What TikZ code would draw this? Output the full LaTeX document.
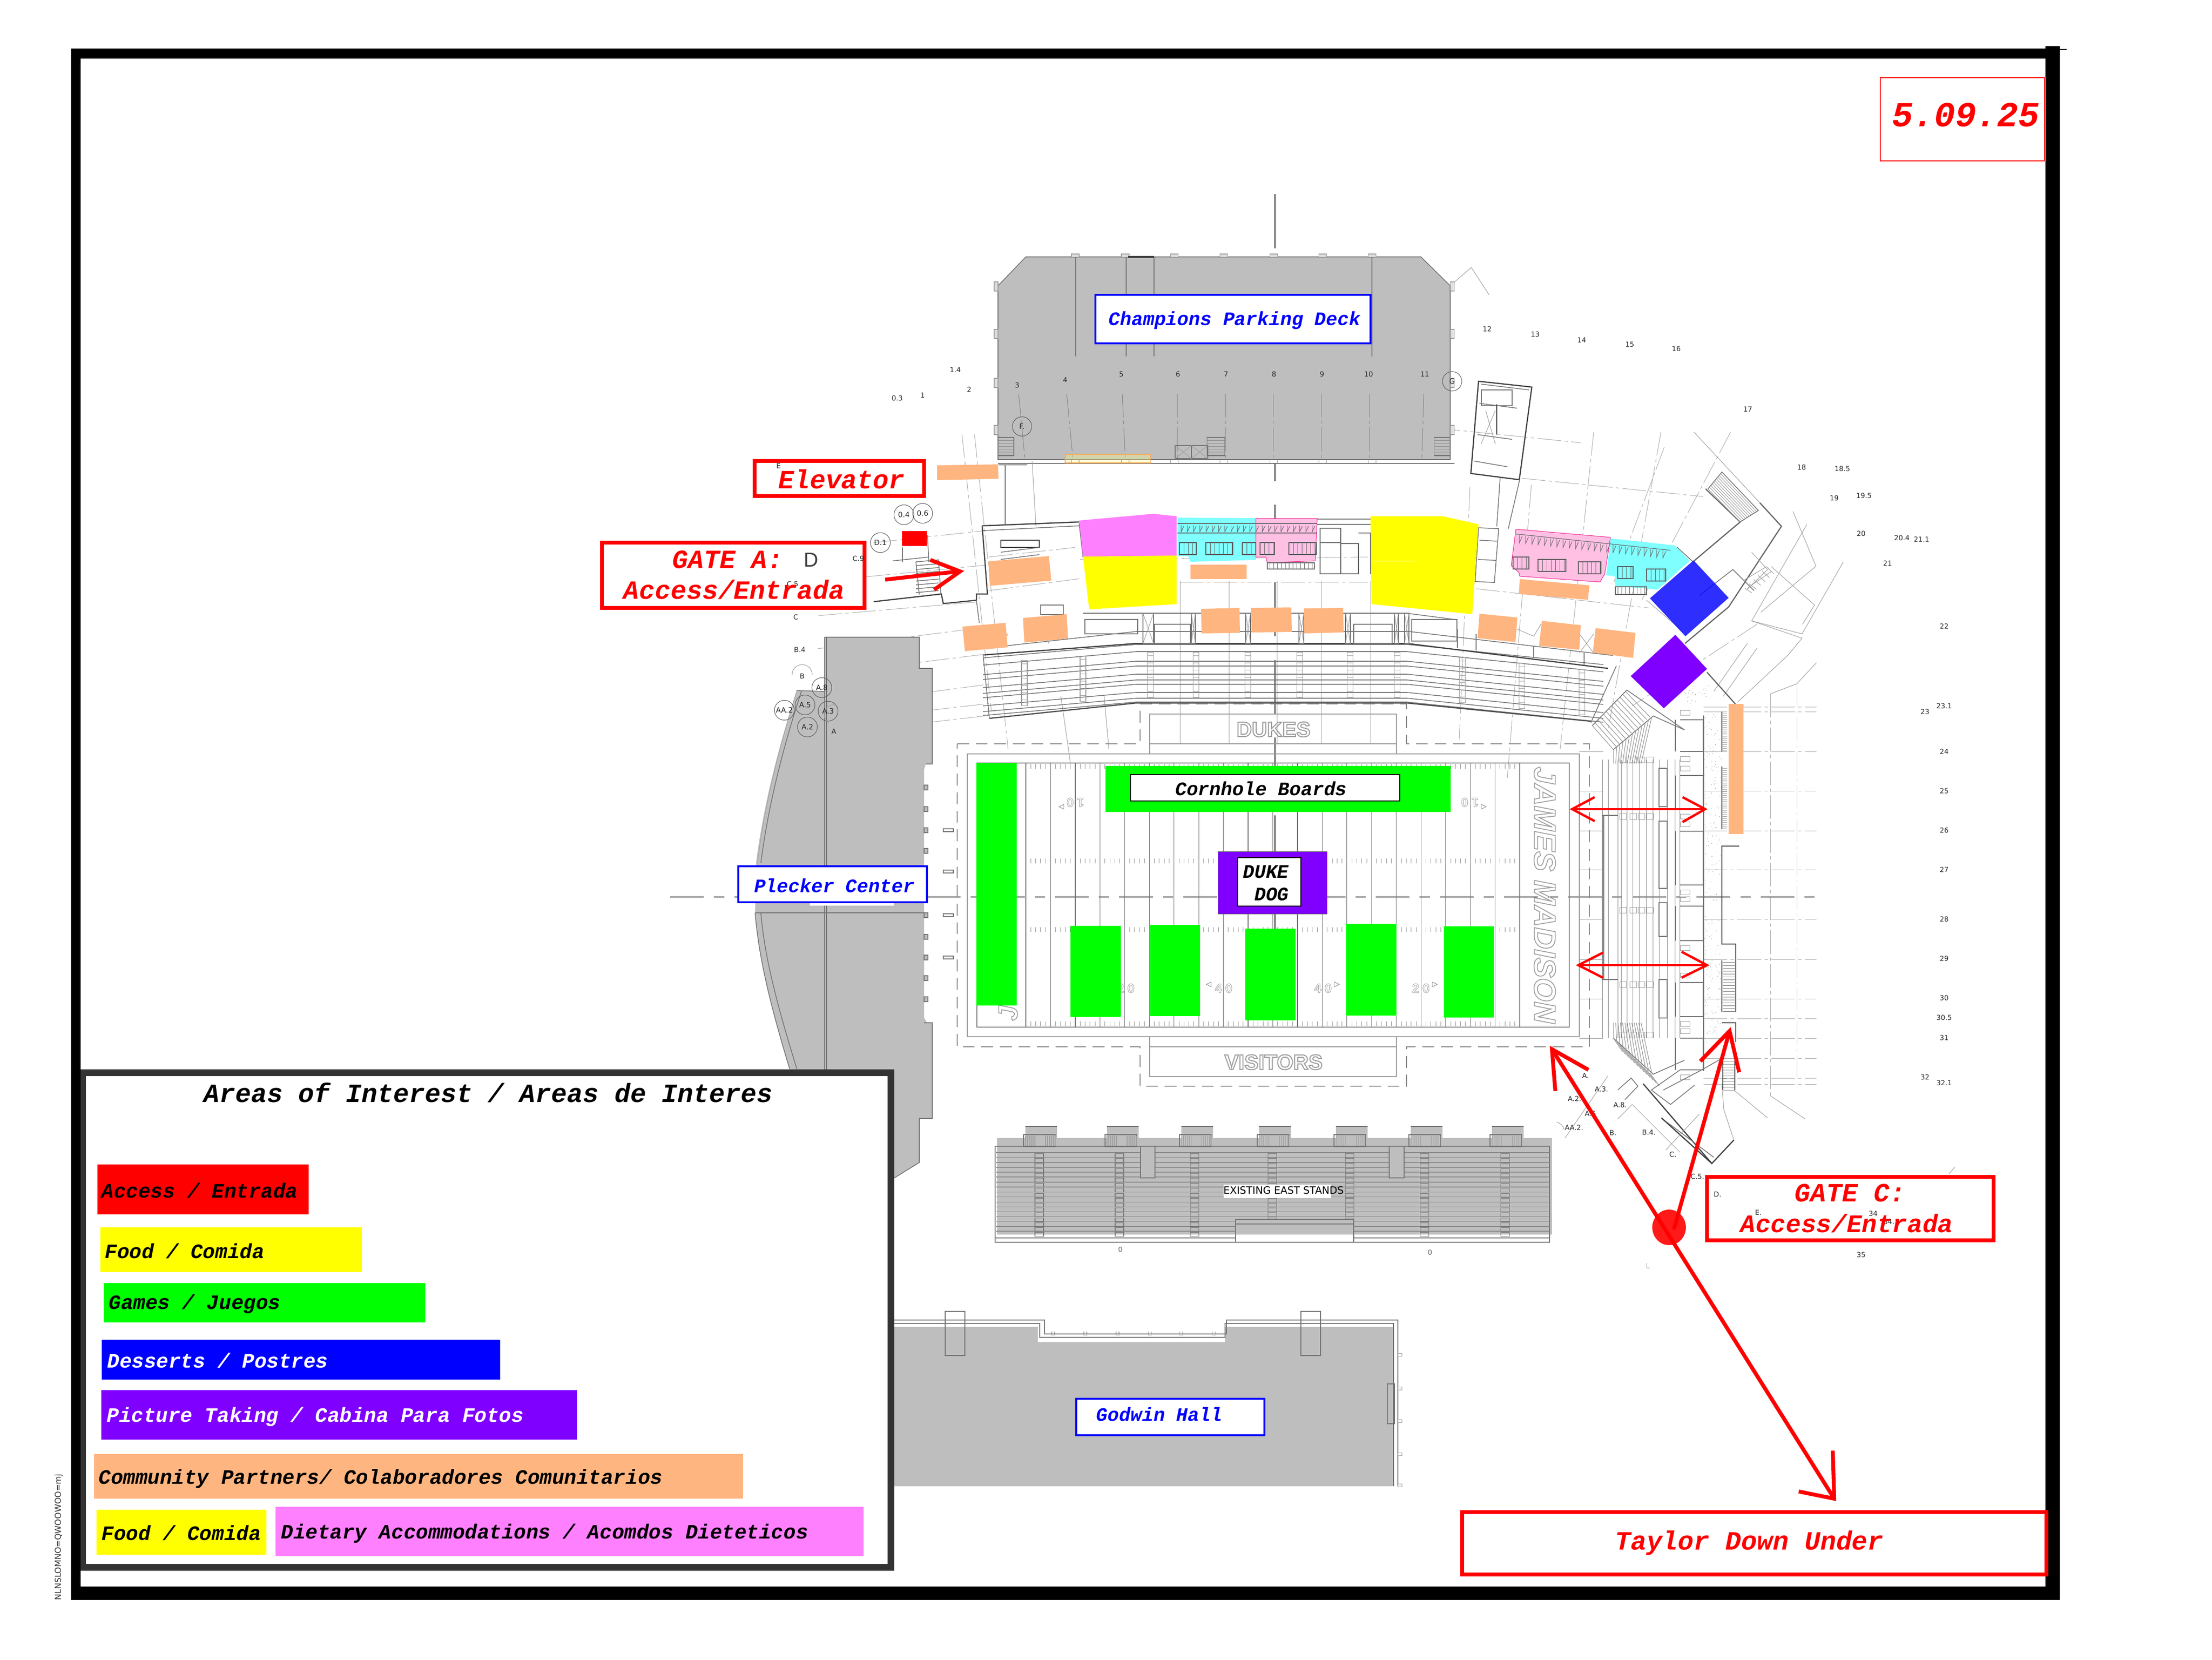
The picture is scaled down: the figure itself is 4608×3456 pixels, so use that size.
\documentclass[tikz,border=0pt]{standalone}
\usepackage{fontspec}
\usetikzlibrary{calc}
\setmainfont{Liberation Mono}
\newfontfamily\cadfont{DejaVu Sans}
\newfontfamily\fieldfont{Liberation Sans}
\definecolor{orng}{HTML}{FFB580}
\definecolor{lime}{HTML}{00FF00}
\definecolor{yelx}{HTML}{FFFF00}
\definecolor{violetx}{HTML}{8000FF}
\definecolor{magen}{HTML}{FF80FF}
\definecolor{cyanx}{HTML}{80FFFF}
\definecolor{pinkx}{HTML}{FFC0E4}
\definecolor{deepp}{HTML}{F0208C}
\definecolor{bldg}{HTML}{BEBEBE}
\definecolor{legf}{HTML}{333333}
\newcommand{\outl}[2][0.6]{\special{pdf:code q 1 Tr #1 w 0.62 G}#2\special{pdf:code Q 0 Tr}}
\tikzset{
  cad/.style={draw=black!55,line width=.45pt},
  cadk/.style={draw=black!75,line width=.7pt},
  cadt/.style={draw=black!38,line width=.3pt},
  griddash/.style={draw=black!32,line width=.3pt,dash pattern=on 14pt off 2pt on 2pt off 2pt},
  rarrow/.style={draw=red,line width=2.3pt,line cap=butt,line join=miter},
  rarrowthin/.style={draw=red,line width=1.4pt},
  rbox/.style={draw=red,line width=2.4pt,fill=white},
  bbox/.style={draw=blue,line width=1pt,fill=white},
  t55/.style={inner sep=0,font=\fontsize{15.6}{18}\selectfont\bfseries\itshape,text=red},
  t40/.style={inner sep=0,font=\fontsize{11.3}{14}\selectfont\bfseries\itshape},
  tleg/.style={inner sep=0,anchor=west,font=\fontsize{12.1}{15}\selectfont\bfseries\itshape},
  ttl/.style={inner sep=0,font=\fontsize{15.6}{18}\selectfont\bfseries\itshape},
  tdate/.style={inner sep=0,font=\fontsize{20.8}{24}\selectfont\bfseries\itshape,text=red},
  sm/.style={inner sep=0,font=\cadfont\fontsize{4.1}{5}\selectfont,text=black!85},
  bub/.style={circle,draw=black!65,line width=.3pt,minimum size=1.18cm*.35,inner sep=0,font=\cadfont\fontsize{4.3}{5}\selectfont,text=black!85},
  fieldnum/.style={inner sep=0,font=\fieldfont\bfseries\fontsize{7.5}{9}\selectfont},
  fieldword/.style={inner sep=0,font=\fieldfont\bfseries\fontsize{12.5}{14}\selectfont},
  yardtri/.style={draw=black!50,line width=.25pt},
}
\begin{document}
\begin{tikzpicture}[x=0.01cm,y=-0.01cm]
\useasboundingbox (0,0) rectangle (4608,3456);
\fill[white] (0,0) rectangle (4608,3456);

% ---------- grid lines (fan) ----------
\draw[griddash] (1703,1351) -- (2060,1305);
\draw[griddash] (1789,1395) -- (2055,1362);
\draw[griddash] (1705,1282) -- (2042,1253);
\draw[griddash] (1805,1201) -- (2053,1177);
\draw[griddash] (1820,1130) -- (2053,1105);
\draw[griddash] (1930,1442) -- (2060,1425);
\draw[griddash] (1930,1480) -- (2060,1465);
\draw[griddash] (1930,1505) -- (2060,1490);
\draw[griddash] (2004,905) -- (2065,1480);
\draw[griddash] (2030,905) -- (2100,1560);
\draw[griddash] (3170,996) -- (3548,1034);
\draw[griddash] (3075,1226) -- (3434,1266);
\draw[griddash] (3062,1015) -- (3040,1540);
\draw[griddash] (3190,1010) -- (3140,1620);
\draw[griddash] (3320,900) -- (3250,1560);
\draw[griddash] (3460,900) -- (3350,1520);
\draw[griddash] (3605,900) -- (3420,1250);
\draw[griddash] (2149,889) -- (2966,889) -- (3293,922);
\draw[griddash] (2458,1212) -- (2850,1212);
\draw[griddash] (2250,1165) -- (2850,1160);
\draw[cadt] (2210,1450) -- (2230,1590);
\draw[cadt] (2300,1450) -- (2310,1560);
\foreach \x in {2458,2560,2660,2752,2855}{\draw[cadt] (\x,1210) -- (\x,1550);}
\draw[griddash] (3660,1300) -- (3400,1470);
\draw[griddash] (3549,1472) -- (3784,1472);
\foreach \y in {1482,1565,1647,1730,1811,1914,1998,2080,2121,2162,2204,2245,2258}{\draw[griddash] (3549,\y) -- (3784,\y);}
\foreach \y in {1565,1647,1730,1811,1914,1998,2080,2162}{\draw[cadt] (3290,\y) -- (3340,\y);}
\draw[griddash] (3688,1445) -- (3688,2282);
\draw[griddash] (3743,1424) -- (3743,2262);
\draw[cadt] (3688,1445) -- (3743,1424) -- (3784,1380);
\draw[cadt] (3688,2282) -- (3760,2330);
% centre lines
\draw[draw=black!80,line width=.6pt,dash pattern=on 20pt off 6pt on 6pt off 6pt] (1396,1868) -- (3783,1868);
\draw[draw=black!85,line width=.6pt,dash pattern=on 32pt off 14pt] (2656,404) -- (2656,1990);

% ---------- Plecker Center ----------
\fill[bldg] (1718,1327) -- (1915,1327) -- (1915,1392) -- (1942,1392) -- (1942,1591) -- (1929,1591) -- (1925,1602) -- (1925,2119) -- (1931,2130) -- (1942,2130) -- (1942,2329) -- (1915,2329) -- (1915,2421) -- (1863,2453) -- (1800,2480) -- (1700,2350) -- (1645,2226) .. controls (1596,2065) and (1580,1980) .. (1573,1902) -- (1575,1797) .. controls (1590,1680) and (1620,1560) .. (1660,1438) -- (1718,1440) -- cycle;
\draw[cad] (1718,1327) -- (1915,1327) -- (1915,1392) -- (1942,1392) -- (1942,1591) -- (1929,1591);
\draw[cad] (1925,2130) -- (1942,2130) -- (1942,2329) -- (1915,2329) -- (1915,2421) -- (1863,2453);
\draw[cad] (1660,1438) -- (1718,1440);
\draw[cadt] (1660,1438) .. controls (1622,1560) and (1592,1680) .. (1578,1797);
\draw[cad] (1670,1438) .. controls (1630,1560) and (1600,1680) .. (1585,1797);
\draw[cad] (1573,1902) .. controls (1580,1980) and (1596,2065) .. (1645,2226);
\draw[cad] (1585,1902) .. controls (1592,1980) and (1610,2065) .. (1660,2226);
\draw[cad] (1718,1327) -- (1718,2250);
\draw[cad] (1722,1327) -- (1722,2250);
\draw[cad] (1573,1901) -- (1925,1901);
\fill[white] (1687,1880) rectangle (1862,1886);
\foreach \y in {1640,1685,1729,1772,1906,1951,1994,2037,2081}{\draw[cad,fill=bldg] (1925,\y-5) rectangle (1933,\y+5);}
\foreach \y in {1729,1815,1906,1994}{\draw[cad] (1965,\y-3) rectangle (1986,\y+3);}

% ---------- Parking deck ----------
\fill[bldg] (2137,535) -- (2960,535) -- (3021,595) -- (3021,957) -- (2079,957) -- (2079,595) -- cycle;
\draw[cad] (2137,535) -- (2960,535) -- (3021,595) -- (3021,957) -- (2079,957) -- (2079,595) -- cycle;
\draw[cadt] (3021,595) -- (3065,557) -- (3102,614);
\foreach \x in {2240,2344,2446,2549,2653,2755,2858}{
  \draw[cadt,fill=bldg!50] (\x-8,529) rectangle (\x+8,536);
  \draw[cadt,fill=white] (\x-8,957) rectangle (\x+8,965);}
\foreach \y in {587,686,788,886}{
  \draw[cadt,fill=bldg!50] (2071,\y) rectangle (2079,\y+19);
  \draw[cadt,fill=bldg!50] (3021,\y) rectangle (3029,\y+19);}
\foreach \x in {2241,2346,2404,2858}{\draw[cad] (\x,535) -- (\x,742);}
\draw[cadk,line width=.9pt] (2350,535) -- (2404,535);
\foreach \xa/\xb in {2122/2135,2222/2235,2338/2344,2453/2453,2553/2553,2652/2652,2752/2752,2852/2852,2966/2962}{\draw[griddash,draw=black!48] (\xa,820) -- (\xb,955);}
\draw[cad] (2079,957) -- (3021,957);
\draw[cad] (2079,965) -- (3030,965);
\foreach \xa/\xb in {2079/2112,2514/2551,2987/3020}{
  \draw[cadt,draw=black!55] (\xa,911) rectangle (\xb,949);
  \foreach \y in {917,923,...,947}{\draw[cadt,draw=black!45,line width=.2pt] (\xa,\y) -- (\xb,\y);}}
\draw[cad] (2448,928) rectangle (2482,955);
\draw[cad] (2482,928) rectangle (2516,955);
\draw[cadt] (2448,928) -- (2482,955) (2448,955) -- (2482,928) (2482,928) -- (2516,955) (2482,955) -- (2516,928);
\draw[draw=orange!70,fill=yelx!45,fill opacity=.35,line width=.3pt] (2219,946) rectangle (2396,964);
\node[bub,minimum size=1.15cm*.35] (bF) at (2129,888) {F.};
\node[bub,minimum size=1.15cm*.35] (bG) at (3025,794) {G};

% ---------- tower upper right ----------
\draw[cadk] (3080,794) -- (3191,806) -- (3165,999) -- (3064,986) -- cycle;
\draw[cad] (3086,800) -- (3185,812) (3082,840) -- (3160,850) (3078,905) -- (3150,915) (3070,960) -- (3140,972);
\draw[cad] (3086,812) rectangle (3150,845);
\draw[cadt] (3095,855) -- (3115,925) (3115,855) -- (3085,925);
\draw[cadk] (3118,842) -- (3118,905);
\draw[cad] (3125,996) -- (3118,1096) (3166,998) -- (3142,1101);
\draw[cad] (3080,1099) -- (3122,1101) -- (3113,1213) -- (3073,1211) -- cycle;
\draw[cad] (3082,1125) -- (3118,1127) (3079,1165) -- (3116,1167);

% ---------- west tower ----------
\draw[cad] (2094,967) -- (2094,1092);
\draw[cadt] (2150,960) -- (2158,1095);
\draw[cad] (2080,968) -- (2140,968);
\draw[cadk] (2046,1095) -- (2248,1087);
\draw[cad] (2048,1105) -- (2248,1095);
\draw[cadk] (2046,1095) -- (2057,1237) -- (2034,1237) -- (2034,1250) -- (1965,1257) -- (1961,1237) -- (1820,1253);
\draw[cad] (2034,1250) -- (2040,1297);
\draw[cad] (2248,1090) -- (2256,1160);
\draw[cadk] (2085,1125) rectangle (2165,1140);
\draw[cad] (2085,1150) -- (2165,1140) (2085,1165) -- (2165,1155);
\draw[cad] (1880,1140) -- (1880,1170) (1932,1115) -- (1935,1170) (1860,1168) -- (1935,1160);
\foreach \y in {1170,1178,...,1236}{\draw[cad] (1908,\y) -- (1955,\y-4);}
\draw[cad] (1908,1170) -- (1915,1238) (1955,1165) -- (1960,1236);
\draw[cad] (2168,1260) rectangle (2215,1280);
\draw[griddash] (2060,1160) -- (2240,1140);
\draw[griddash] (2060,1230) -- (2250,1205);

% ---------- north stands ----------
\foreach \y in {1342,1357,1377,1387,1404,1416,1425,1442,1454,1462}{
  \draw[cad] (2048,\y+28) -- (2367,\y) -- (2931,\y) -- (3340,\y+42);}
\draw[cadk] (2048,1364) -- (2367,1340) -- (2931,1340) -- (3350,1392);
\draw[draw=black!70,line width=.7pt] (2061,1496) -- (2367,1464) -- (2931,1464) -- (3314,1502);
\draw[cad] (2048,1364) -- (2061,1496) (3367,1387) -- (3314,1505);
\foreach \x in {2134,2256,2396,2491,2599,2707,2812,2910}{
  \pgfmathsetmacro\dy{\x<2367 ? (2367-\x)*0.075 : 0}
  \draw[cadt] (\x-6,1358+\dy) rectangle (\x+6,1452+\dy);
  \foreach \q in {1365,1380,...,1445}{\draw[cadt] (\x-6,\q+\dy) -- (\x+6,\q+\dy);}}
\foreach \x in {3046,3170,3295}{
  \pgfmathsetmacro\dy{(\x-2931)*0.1}
  \draw[cadt] (\x-6,1358+\dy) rectangle (\x+6,1452+\dy);
  \foreach \q in {1365,1380,...,1445}{\draw[cadt] (\x-6,\q+\dy) -- (\x+6,\q+\dy);}}
% concourse edge
\draw[cad] (2050,1350) -- (2367,1315) -- (2935,1315) -- (3360,1365);
\draw[cad] (2256,1277) -- (2930,1277);
\draw[cad] (2930,1277) -- (3030,1290);
\draw[cad] (2050,1330) -- (2100,1322);
\foreach \xa/\xb in {2381/2403,2482/2490,2595/2605,2706/2716,2803/2813,2905/2913,2926/2935}{
  \draw[cad] (\xa,1277) rectangle (\xb,1340);
  \draw[cadt] (\xa,1277) -- (\xb,1340) (\xa,1340) -- (\xb,1277);}
\draw[cad] (2405,1300) rectangle (2480,1340);
\draw[cad] (2820,1300) rectangle (2900,1340);
\draw[cad] (2260,1290) rectangle (2370,1320);
\draw[cad] (2941,1290) rectangle (3035,1335);
\draw[cad] (3036,1310) -- (3036,1350) (3075,1320) -- (3075,1355) (3195,1345) -- (3195,1370) (3300,1360) -- (3300,1385);
\draw[cadt] (3160,1310) -- (3195,1325) -- (3210,1300);
\draw[cadt] (3290,1320) -- (3320,1360) (3320,1320) -- (3290,1360);
\draw[cadt] (2155,1290) -- (2185,1340) (2185,1290) -- (2155,1340);

% ---------- NE structure ----------
\draw[cad] (3493,1139) -- (3529,1172);
\draw[cadk,draw=black!60] (3529,1168) -- (3625,1087) -- (3553,1018);
\draw[cad] (3558,1018) -- (3587,983) -- (3663,1063) -- (3625,1087);
\foreach \t in {0,.1,...,1}{\draw[cadt] ($(3558,1018)!\t!(3587,983)$) -- ($(3625,1087)!\t!(3663,1063)$);}
\draw[cadk,draw=black!60] (3666,1047) -- (3711,1096) -- (3601,1264) -- (3510,1340);
\draw[cadt] (3529,900) -- (3666,1047);
\draw[cad] (3610,1186) -- (3654,1230);
\draw[cad] (3610,1186) -- (3540,1240);
\draw[cadt] (3630,1210) -- (3680,1180) (3640,1225) -- (3690,1190);
\foreach \t in {0,.2,...,1}{\draw[cadt] ($(3635,1225)!\t!(3680,1180)$) -- ($(3650,1235)!\t!(3695,1195)$);}
\draw[cadt] (3764,1092) -- (3649,1293) -- (3754,1320) -- (3840,1170);
\draw[cadt] (3755,1300) -- (3780,1260) -- (3690,1180);
\draw[cadt] (3735,1065) -- (3783,1179) -- (3668,1275);
\draw[cadt] (3649,1293) -- (3754,1329) -- (3725,1364) -- (3620,1462);
\draw[cadt] (3649,1150) -- (3682,1186) -- (3639,1228);
\draw[cadt] (3640,1340) -- (3570,1440);
\draw[cadt] (3660,1350) -- (3590,1450);
\draw[cadk,draw=black!60] (3556,1400) -- (3615,1466);
\draw[cadt] (3430,1250) -- (3500,1310);
\draw[griddash] (3467,931) -- (3362,1212);

% ---------- east stands ----------
\foreach \zx in {340,357,385,395,412,430,450,470,490,508,533,555,570}{
  \draw[cadt,draw=black!45] (3100+\zx*0.7015,1582) -- (3100+\zx*0.7015,2162);}
\fill[black!45] (3337,1698) rectangle (3342,2040);
\draw[cad] (3337,1698) -- (3370,1698) (3337,2040) -- (3370,2040);
\draw[cad] (3361,1561) -- (3444,1491) -- (3509,1520);
\draw[cad] (3361,2162) -- (3444,2237) -- (3509,2208);
\foreach \t in {0,.08,...,1}{
  \draw[cadt,draw=black!45] ($(3317,1511)!\t!(3389,1437)$) -- ($(3361,1561)!\t!(3440,1490)$);
  \draw[cadt,draw=black!45] ($(3361,2162)!\t!(3440,2237)$) -- ($(3380,2190)!\t!(3460,2265)$);
  \draw[cadt,draw=black!45] ($(3361,1561)!\t!(3444,1491)$) -- (3361+\t*60,1590);
  \draw[cadt,draw=black!45] ($(3361,2162)!\t!(3444,2237)$) -- (3361+\t*60,2130);}
\draw[cad] (3389,1437) -- (3509,1520);
\draw[cad] (3317,1511) -- (3389,1437);
\foreach \y in {1582,1700,1895,2050,2155}{
  \foreach \x in {3374,3395,3412,3430}{\draw[cadt] (\x,\y-6) rectangle (\x+14,\y+6);}}
\foreach \ya/\yb in {1499/1565,1615/1685,1731/1843,1887/1959,2046/2117,2162/2228}{
  \draw[cad] (3500,\ya) -- (3548,\ya) -- (3548,\yb) -- (3500,\yb);
  \draw[cad] (3490,\ya) -- (3490,\yb);
  \draw[cadt] (3500,\yb+10) rectangle (3520,\yb+20);
  \draw[cadt] (3500,\ya-20) rectangle (3520,\ya-10);}
\draw[cad] (3456,1600) rectangle (3473,1680);
\draw[cad] (3456,1710) rectangle (3473,1850);
\draw[cad] (3456,1880) rectangle (3473,1950);
\draw[cad] (3456,2040) rectangle (3473,2120);
\pgfmathsetseed{7}
\foreach \i in {1,...,220}{
  \pgfmathsetmacro\dx{3550+rnd*36}\pgfmathsetmacro\dyy{1482+rnd*690}
  \fill[black!45] (\dx,\dyy) circle[radius=.7];}
\pgfmathsetseed{9}
\foreach \i in {1,...,30}{
  \pgfmathsetmacro\dx{3500+rnd*60}\pgfmathsetmacro\dyy{1420+rnd*45}
  \fill[black!45] (\dx,\dyy) circle[radius=.7];}
\draw[cad] (3549,1490) -- (3549,2230);
\draw[cadk] (3587,1482) -- (3587,1565) (3587,1596) -- (3587,1727);
\draw[cadk] (3623,1762) -- (3587,1762) -- (3587,1966) -- (3616,1966) -- (3616,2000);
\draw[cadk] (3587,2000) -- (3587,2108) (3616,2000) -- (3616,2108) (3587,2130) -- (3616,2130) -- (3616,2170);
\foreach \y in {2004,2010,...,2108}{\draw[cadt,draw=black!55] (3590,\y) -- (3614,\y);}
\foreach \y in {2204,2210,...,2270}{\draw[cadt] (3590,\y) -- (3614,\y);}
\draw[cadk] (3589,2204) -- (3589,2270) (3614,2204) -- (3614,2270);
\foreach \y in {1486,1490,...,1562}{\draw[cadt] (3587,\y) -- (3598,\y);}
\foreach \y in {1600,1604,...,1725}{\draw[cadt] (3587,\y) -- (3598,\y);}
\draw[cadk] (3423,2257) -- (3566,2423) -- (3612,2374);
\draw[cadk] (3461,2328) -- (3566,2423);
\draw[cad] (3470,2335) -- (3570,2410);
\draw[cad] (3370,2270) -- (3398,2245) -- (3412,2262) -- (3385,2290);
\draw[cad] (3465,2270) -- (3545,2228) -- (3587,2204);
\draw[cad] (3500,2228) -- (3440,2270) -- (3480,2300) -- (3530,2260);
\draw[cadt] (3591,2311) -- (3612,2374);
\draw[cadt] (3591,2311) -- (3587,2260);
\draw[cadt] (3612,2270) -- (3682,2328);
\draw[cadt] (3470,2395) -- (3540,2320) (3260,2370) -- (3350,2240);
\draw[cadt] (3400,2300) -- (3500,2400) (3370,2330) -- (3400,2300);

% ---------- field ----------
\draw[draw=black!45,line width=.35pt,dash pattern=on 7pt off 4pt] (1994,1549) -- (2375,1549) -- (2375,1466) -- (2930,1466) -- (2930,1549) -- (3311,1549) -- (3311,2180) -- (2930,2180) -- (2930,2262) -- (2375,2262) -- (2375,2180) -- (1994,2180) -- cycle;
\draw[draw=black!40,line width=.5pt] (2015,1570) rectangle (3290,2159);
\draw[draw=black!50,line width=.4pt] (2035,1589) rectangle (3269,2139);
\draw[draw=black!40,line width=.5pt] (2395,1570) -- (2395,1487) -- (2909,1487) -- (2909,1570) (2395,1549) -- (2909,1549);
\draw[draw=black!40,line width=.5pt] (2395,2159) -- (2395,2242) -- (2909,2242) -- (2909,2159) (2395,2180) -- (2909,2180);
\foreach \i in {0,...,20}{
  \draw[draw=black!55,line width=.33pt] (2137+\i*51.45,1589) -- (2137+\i*51.45,2139);}
\foreach \i in {0,...,19}{\foreach \j in {1,2,3,4}{
  \foreach \y in {1596,1793,1936,2132}{
    \draw[draw=black!42,line width=.25pt] (2137+\i*51.45+\j*10.3,\y-5) -- (2137+\i*51.45+\j*10.3,\y+5);}}}
\node[fieldword] (dukes) at (2653,1519) {\outl{DUKES}};
\node[fieldword] (visitors) at (2653,2212) {\outl{VISITORS}};
\node[fieldnum,rotate=180] (n10a) at (2240,1671) {\outl[.25]{1\kern2pt 0}};
\node[fieldnum,rotate=180] (n10b) at (3062,1671) {\outl[.25]{1\kern2pt 0}};
\node[fieldnum] (n20a) at (2345,2058) {\outl[.25]{2\kern2pt 0}};
\node[fieldnum] (n40a) at (2549,2058) {\outl[.25]{4\kern2pt 0}};
\node[fieldnum] (n40b) at (2756,2058) {\outl[.25]{4\kern2pt 0}};
\node[fieldnum] (n20b) at (2960,2058) {\outl[.25]{2\kern2pt 0}};
\draw[yardtri] (2216,1675) -- (2206,1680) -- (2216,1685) -- cycle;
\draw[yardtri] (3086,1675) -- (3096,1680) -- (3086,1685) -- cycle;
\draw[yardtri] (2523,2045) -- (2513,2050) -- (2523,2055) -- cycle;
\draw[yardtri] (2780,2045) -- (2790,2050) -- (2780,2055) -- cycle;
\draw[yardtri] (2984,2045) -- (2994,2050) -- (2984,2055) -- cycle;
\node[fieldnum,font=\fieldfont\bfseries\itshape\fontsize{18}{20}\selectfont,rotate=-90] (jmu) at (3218,1864) {\outl[.5]{JAMES MADISON}};
\node[fieldnum,font=\fieldfont\bfseries\itshape\fontsize{16}{18}\selectfont,rotate=90] (jleft) at (2100,2110) {\outl[.5]{J}};

% ---------- east (existing) stands ----------
\fill[bldg] (2077,2370) rectangle (3233,2571);
\foreach \x in {2136,2306,2461,2623,2783,2939,3108}{
  \fill[bldg] (\x,2346) rectangle (\x+66,2370);
  \draw[cad] (\x,2346) -- (\x+66,2346);
  \draw[cad] (\x-4,2363) rectangle (\x+62,2388);
  \foreach \q in {0,4,...,20}{\draw[cadt] (\x+\q,2365) -- (\x+\q,2388);\draw[cadt] (\x+42+\q,2365) -- (\x+42+\q,2388);}}
\draw[cad] (2073,2387) rectangle (3228,2587);
\draw[cad] (2073,2578) -- (3228,2578);
\foreach \z in {450,482,512,542,573,603,636,665,697,727,760,790,820,850,880,912,942}{
  \draw[draw=black!45,line width=.45pt] (2075,2250+\z/3) -- (3228,2250+\z/3);}
\foreach \x in {2165,2332,2488,2650,2811,2967,3135}{
  \foreach \z in {470,500,530,562,592,623,654,685,717,748,779,808,838,870,902,932,962}{
    \draw[cadt,draw=black!55] (\x-9,2250+\z/3-4) rectangle (\x+9,2250+\z/3+4);}}
\fill[bldg] (2376,2388) rectangle (2405,2452);
\fill[bldg] (2894,2388) rectangle (2925,2452);
\draw[cad] (2376,2388) -- (2376,2453) -- (2406,2453) -- (2406,2388);
\draw[cad] (2894,2388) -- (2894,2453) -- (2925,2453) -- (2925,2388);
\fill[bldg] (2574,2540) rectangle (2820,2571);
\fill[white] (2574,2571) rectangle (2820,2587);
\draw[cad] (2574,2540) rectangle (2820,2587);
\draw[cad] (2574,2549) -- (2820,2549);
\fill[white] (2549,2467) rectangle (2773,2495);
\node[inner sep=0,font=\cadfont\fontsize{6}{7}\selectfont] (east) at (2674,2479) {EXISTING EAST STANDS};
\node[sm,text=black!60] (z0a) at (2334,2602) {0};
\node[sm,text=black!60] (z0b) at (2979,2608) {0};
\draw[cadt] (3430,2630) -- (3430,2640) -- (3437,2640);
\draw[cadt] (4060,2445) -- (4072,2430);

% ---------- Godwin Hall ----------
\fill[bldg] (1800,2763) -- (2162,2763) -- (2162,2795) -- (2552,2795) -- (2552,2763) -- (2903,2763) -- (2903,3095) -- (1800,3095) -- cycle;
\draw[cad] (1863,2749) -- (2176,2749) -- (2176,2778) -- (2555,2778) -- (2555,2749) -- (2912,2749) -- (2912,3095);
\draw[cad] (1863,2756) -- (2166,2756) -- (2166,2785) -- (2552,2785) -- (2552,2756) -- (2903,2756) -- (2903,3095);
\draw[cad] (1969,2731) rectangle (2010,2823);
\draw[cad] (2710,2731) rectangle (2751,2823);
\foreach \x in {2191,2258,2325,2392,2457,2525}{\draw[cadt] (\x,2773) -- (\x,2780) -- (\x+6,2780) -- (\x+6,2773);}
\draw[cad] (2890,2882) rectangle (2905,2965);
\foreach \y in {2818,2888,2956,3025,3090}{\draw[cadt] (2912,\y) rectangle (2920,\y+6);}

% ---------- colour areas ----------
\fill[orng] (1952,969) -- (2079,967) -- (2080,997) -- (1952,1000) -- cycle;
\fill[orng] (2059,1169) -- (2185,1158) -- (2190,1209) -- (2062,1220) -- cycle;
\fill[orng] (2005,1305) -- (2095,1297) -- (2099,1348) -- (2010,1356) -- cycle;
\fill[orng] (2131,1287) -- (2222,1279) -- (2225,1330) -- (2134,1338) -- cycle;
\fill[orng] (2480,1176) rectangle (2597,1206);
\fill[orng] (2502,1268) -- (2582,1266) -- (2583,1318) -- (2503,1319) -- cycle;
\fill[orng] (2606,1266) -- (2690,1265) -- (2691,1316) -- (2607,1317) -- cycle;
\fill[orng] (2716,1267) -- (2798,1266) -- (2799,1317) -- (2717,1319) -- cycle;
\fill[orng] (3166,1206) -- (3311,1219) -- (3308,1249) -- (3164,1237) -- cycle;
\fill[orng] (3082,1278) -- (3161,1286) -- (3157,1337) -- (3078,1329) -- cycle;
\fill[orng] (3212,1293) -- (3293,1302) -- (3290,1353) -- (3206,1345) -- cycle;
\fill[orng] (3324,1308) -- (3407,1318) -- (3402,1370) -- (3318,1359) -- cycle;
\fill[orng] (3601,1466) rectangle (3632,1737);
\fill[magen] (2248,1084) -- (2402,1070) -- (2451,1075) -- (2451,1158) -- (2256,1159) -- cycle;
\fill[yelx] (2256,1159) -- (2451,1157) -- (2451,1258) -- (2269,1269) -- cycle;
\fill[yelx] (2855,1075) -- (3006,1075) -- (3080,1092) -- (3067,1279) -- (2857,1258) -- cycle;
\draw[draw=white,line width=.3pt] (2860,1168) -- (2950,1168);
\fill[cyanx] (2453,1078) -- (2616,1079) -- (2616,1166) -- (2480,1170) -- (2475,1158) -- (2453,1158) -- cycle;
\fill[pinkx] (2616,1080) -- (2744,1080) -- (2740,1168) -- (2640,1172) -- (2637,1160) -- (2616,1160) -- cycle;
\draw[draw=deepp,line width=.3pt] (2616,1080) -- (2744,1080) -- (2740,1168) -- (2640,1172) -- (2637,1160) -- (2616,1160) -- cycle;
\fill[pinkx] (3158,1102) -- (3355,1119) -- (3343,1195) -- (3333,1212) -- (3166,1200) -- (3164,1192) -- (3148,1178) -- cycle;
\draw[draw=deepp,line width=.3pt] (3158,1102) -- (3355,1119) -- (3343,1195) -- (3333,1212) -- (3166,1200) -- (3164,1192) -- (3148,1178) -- cycle;
\fill[cyanx] (3355,1121) -- (3489,1136) -- (3520,1168) -- (3453,1228) -- (3365,1220) -- (3364,1200) -- (3346,1198) -- cycle;
% washroom line work over the tinted rooms
\foreach \x in {2460,2473,...,2740}{
  \draw[draw=black!60,line width=.3pt] (\x,1094) -- (\x,1108);
  \draw[draw=black!60,line width=.3pt] (\x,1108) -- (\x+6,1096);}
\draw[draw=black!60,line width=.35pt] (2453,1090) -- (2744,1090) (2453,1110) -- (2744,1110);
\foreach \xa/\xb in {2457/2492,2512/2568,2588/2616,2625/2655,2685/2742}{
  \draw[draw=black!65,line width=.35pt] (\xa,1130) rectangle (\xb,1155);
  \foreach \x in {\xa,...,\xb}{\pgfmathparse{int(mod(\x-\xa,9)==0)}\ifnum\pgfmathresult=1\draw[draw=black!60,line width=.25pt] (\x,1130) -- (\x,1155);\fi}}
\foreach \x in {3165,3178,...,3470}{
  \pgfmathsetmacro\yy{1108+(\x-3158)*0.105}
  \draw[draw=black!60,line width=.3pt] (\x,\yy+6) -- (\x,\yy+22) -- (\x+6,\yy+8);}
\draw[draw=black!60,line width=.35pt] (3158,1112) -- (3480,1146);
\foreach \xa/\xb/\ya in {3152/3185/1160,3204/3262/1165,3288/3335/1170,3370/3402/1180,3430/3470/1185}{
  \draw[draw=black!65,line width=.35pt] (\xa,\ya) rectangle (\xb,\ya+25);
  \foreach \x in {\xa,...,\xb}{\pgfmathparse{int(mod(\x-\xa,9)==0)}\ifnum\pgfmathresult=1\draw[draw=black!60,line width=.25pt] (\x,\ya) -- (\x,\ya+25);\fi}}
% rooms between
\draw[cad] (2744,1081) -- (2855,1081);
\draw[cad] (2744,1092) -- (2855,1092);
\draw[cadk,draw=black!60] (2750,1100) rectangle (2793,1195);
\draw[cadk,draw=black!60] (2793,1132) rectangle (2830,1195);
\draw[cad] (2750,1130) -- (2793,1130);
\draw[cad] (2830,1110) -- (2855,1110) -- (2855,1195);
\draw[draw=black!60,line width=.4pt] (2640,1172) rectangle (2738,1185);
\foreach \x in {2645,2653,...,2735}{\draw[draw=black!60,line width=.3pt] (\x,1172) -- (\x,1185);}
\draw[draw=black!60,line width=.4pt] (3365,1222) rectangle (3430,1238);
\foreach \x in {3370,3378,...,3428}{\draw[draw=black!60,line width=.3pt] (\x,1222) -- (\x,1238);}

\fill[blue,opacity=.82] (3528,1167) -- (3601,1245) -- (3511,1325) -- (3437,1246) -- cycle;
\fill[violetx] (3490,1322) -- (3556,1393) -- (3466,1475) -- (3397,1408) -- cycle;
\fill[lime] (2034,1589) rectangle (2118,2094);
\fill[lime] (2303,1595) rectangle (3022,1691);
\fill[lime] (2230,1928) rectangle (2335,2118);
\fill[lime] (2396,1926) rectangle (2500,2116);
\fill[lime] (2594,1934) rectangle (2699,2125);
\fill[lime] (2804,1924) rectangle (2909,2115);
\fill[lime] (3008,1929) rectangle (3112,2119);
\draw[draw=black,line width=.8pt,fill=white] (2355,1613) rectangle (2916,1668);
\node[t40] (corn) at (2627,1642) {Cornhole Boards};
\draw[draw=black!60,line width=.3pt,fill=violetx] (2537,1773) rectangle (2764,1903);
\draw[draw=black,line width=.8pt,fill=white] (2578,1786) rectangle (2710,1887);
\node[t40] (duke) at (2637,1816) {DUKE};
\node[t40] (dog) at (2649,1862) {DOG};

% ---------- bubbles and grid labels ----------
\node[bub] (b04) at (1883,1072) {0.4};
\node[bub] (b06) at (1922,1069) {0.6};
\node[bub] (bd1) at (1834,1130) {D.1};
\node[bub] (a8) at (1712,1432) {A.8};
\node[bub] (a5) at (1677,1468) {A.5};
\node[bub] (aa2) at (1634,1479) {AA.2};
\node[bub] (a3) at (1725,1481) {A.3};
\node[bub] (a2) at (1682,1514) {A.2};
\fill[red] (1879,1106) rectangle (1931,1137);
\node[sm] (lb4) at (1666,1353) {B.4};
\node[sm] (lb) at (1671,1408) {B};
\node[sm] (la) at (1737,1523) {A};
\draw[cadt] (1650,1405) arc[start angle=180,end angle=360,radius=21];
\draw[cadt] (1727,1505) arc[start angle=120,end angle=290,radius=20];
\foreach \t/\x/\y [count=\i] in {0.3/1869/829,1.4/1990/770,1/1922/823,2/2019/811,3/2119/802,4/2219/791,5/2336/779,6/2454/779,7/2554/779,8/2654/779,9/2754/779,10/2851/779,11/2968/779,12/3098/685,13/3198/696,14/3295/708,15/3395/717,16/3492/726,17/3641/852,18/3753/973,18.5/3838/976,19/3821/1037,19.5/3883/1032,20/3877/1111,20.4/3962/1120,21.1/4003/1123,21/3932/1173,22/4050/1304,23/4010/1482,23.1/4050/1470,24/4050/1565,25/4050/1647,26/4050/1729,27/4050/1811,28/4050/1914,29/4050/1996,30/4050/2078,30.5/4050/2119,31/4050/2161,32/4010/2243,32.1/4050/2255,A./3303/2240,A.3./3336/2268,A.2./3280/2288,A.8./3375/2301,A.5/3313/2319,AA.2./3279/2348,B./3360/2359,B.4./3435/2358,C./3485/2404,C.5./3536/2450,35/3877/2613}{
  \node[sm] (gl\i) at (\x,\y) {\t};}
\draw[cadt] (3258,2352) arc[start angle=170,end angle=100,radius=-18];

% ---------- label boxes ----------
\draw[bbox] (2282,614) rectangle (2855,715);
\node[t40,text=blue] (champ) at (2572,667) {Champions Parking Deck};
\draw[bbox] (1538,1804) rectangle (1931,1879);
\node[t40,text=blue] (pleck) at (1738,1844) {Plecker Center};
\draw[bbox] (2242,2913) rectangle (2634,2989);
\node[t40,text=blue] (godwin) at (2415,2945) {Godwin Hall};

\draw[rbox] (1572,960) rectangle (1925,1033);
\node[sm] (lE) at (1622,970) {E};
\node[t55] (elev) at (1753,998) {Elevator};
\draw[rbox] (1254,1130) rectangle (1801,1266);
\node[sm] (lc5) at (1651,1216) {C.5};
\node[sm] (lc9) at (1788,1163) {C.9};
\node[sm] (lc) at (1658,1285) {C};
\node[t55] (gatea) at (1516,1165) {GATE A:};
\node[inner sep=0,font=\fieldfont\fontsize{12}{13}\selectfont,text=black!75] (gd) at (1690,1166) {D};
\node[t55] (acca) at (1529,1228) {Access/Entrada};
\draw[rarrow] (1844,1207) -- (1996,1190);
\draw[rarrow] (1938,1166) -- (2000,1190) -- (1946,1228);

% ---------- gate C ----------
\draw[rbox] (3556,2451) rectangle (4153,2583);
\node[sm] (ld) at (3578,2487) {D.};
\node[sm] (le) at (3663,2525) {E.};
\node[sm] (l34) at (3902,2527) {34};
\node[sm] (l34b) at (3935,2544) {34.};
\node[t55] (gatec) at (3854,2484) {GATE C:};
\node[t55,font=\fontsize{15.0}{18}\selectfont\bfseries\itshape] (accc) at (3847,2548) {Access/Entrada};
\fill[red,opacity=.9] (3477,2556) ellipse[x radius=35,y radius=37];
\draw[rarrow] (3233,2185) -- (3821,3121);
\draw[rarrow] (3309,2228) -- (3233,2185) -- (3240,2272);
\draw[rarrow] (3747,3106) -- (3821,3121) -- (3818,3021);
\draw[rarrow] (3487,2560) -- (3603,2147);
\draw[rarrow] (3542,2210) -- (3603,2147) -- (3623,2233);
\draw[rarrowthin] (3275,1685) -- (3552,1685);
\draw[rarrowthin] (3322,1660) -- (3275,1685) -- (3322,1710);
\draw[rarrowthin] (3505,1660) -- (3552,1685) -- (3505,1712);
\draw[rarrowthin] (3288,2010) -- (3556,2010);
\draw[rarrowthin] (3339,1984) -- (3288,2010) -- (3339,2036);
\draw[rarrowthin] (3503,1982) -- (3556,2010) -- (3503,2036);

% ---------- legend ----------
\draw[draw=legf,line width=4.2pt,fill=white] (172,2234) rectangle (1856,3264);
\node[ttl] (ltitle) at (1017,2275) {Areas of Interest / Areas de Interes};
\fill[red] (203,2425) rectangle (643,2529);
\node[tleg] (l1) at (211,2479) {Access / Entrada};
\fill[yelx] (209,2556) rectangle (754,2649);
\node[tleg] (l2) at (218,2605) {Food / Comida};
\fill[lime] (216,2672) rectangle (886,2754);
\node[tleg] (l3) at (226,2716) {Games / Juegos};
\fill[blue] (212,2790) rectangle (1042,2873);
\node[tleg,text=white] (l4) at (223,2833) {Desserts / Postres};
\fill[violetx] (211,2895) rectangle (1202,2998);
\node[tleg,text=white] (l5) at (222,2951) {Picture Taking / Cabina Para Fotos};
\fill[orng] (196,3028) rectangle (1548,3121);
\node[tleg] (l6) at (205,3079) {Community Partners/ Colaboradores Comunitarios};
\fill[yelx] (201,3144) rectangle (555,3238);
\node[tleg] (l7) at (211,3192) {Food / Comida};
\fill[magen] (574,3138) rectangle (1799,3241);
\node[tleg] (l8) at (585,3193) {Dietary Accommodations / Acomdos Dieteticos};

% ---------- outer frame ----------
\fill[black] (148,101) rectangle (4291,122);
\fill[black] (148,101) rectangle (168,3332);
\fill[black] (4261,96) rectangle (4291,3332);
\fill[black] (148,3304) rectangle (4291,3332);
\draw[draw=black,line width=.7pt] (4291,103) -- (4305,103);

\draw[rbox] (3046,3149) rectangle (4263,3279);
\node[t55] (taylor) at (3644,3213) {Taylor Down Under};

\draw[draw=red,line width=.8pt,fill=white] (3917,162) rectangle (4259,335);
\node[tdate] (date) at (4095,239) {5.09.25};
\node[inner sep=0,rotate=90,font=\cadfont\fontsize{4.9}{6}\selectfont,text=black!80] (stamp) at (122,3201) {NLNSLOMNO=QWOOWOO=mj};
\end{tikzpicture}
\end{document}
